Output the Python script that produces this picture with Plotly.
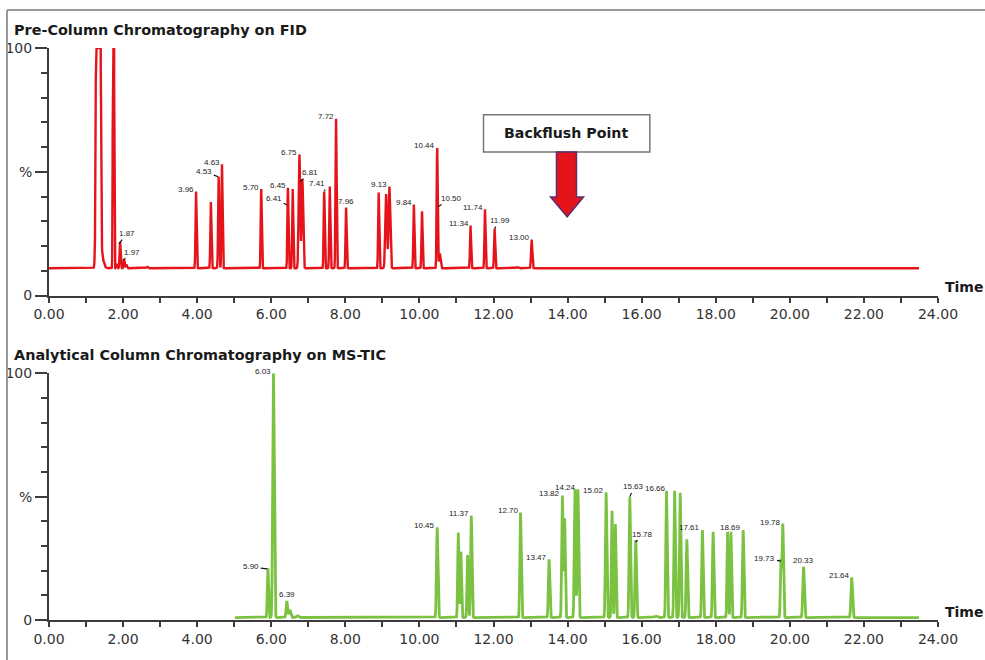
import numpy as np
import plotly.graph_objects as go

# ---------------- data ----------------
# Pre-column FID chromatogram: peak retention times (min), apex heights (%), widths (sigma, min)
fid_baseline = 11.0
fid_rt = [1.33, 1.42, 1.74, 1.83, 1.92, 2.03, 2.09, 2.65, 3.97, 4.37, 4.58, 4.67, 5.73,
          6.45, 6.58, 6.76, 6.84, 7.43, 7.58, 7.75, 8.02, 8.90, 9.10, 9.19, 9.85, 10.07,
          10.48, 10.55, 11.38, 11.77, 12.03, 12.67, 13.03]
fid_apex = [1000, 16, 300, 12.8, 21.7, 14.6, 12.5, 11.6, 42, 37.8, 48, 53, 43,
            43.5, 43, 57, 47, 42, 44, 71.4, 35.5, 41.6, 41, 44, 36.8, 34,
            59.6, 17, 28.3, 34.8, 27, 11.4, 22.6]
fid_sigma = [0.03, 0.05, 0.012, 0.014, 0.014, 0.014, 0.014, 0.02, 0.014, 0.014, 0.014, 0.014, 0.014,
             0.014, 0.014, 0.02, 0.02, 0.014, 0.014, 0.014, 0.014, 0.014, 0.022, 0.022, 0.014, 0.014,
             0.014, 0.02, 0.014, 0.014, 0.014, 0.02, 0.016]
fid_end = 23.49

# Analytical column MS-TIC chromatogram
ms_baseline = 1.0
ms_start = 5.02
ms_end = 23.49
ms_rt = [5.91, 6.06, 6.42, 6.50, 6.70, 10.48, 11.05, 11.12, 11.30, 11.40, 12.73, 13.50,
         13.86, 13.92, 14.20, 14.28, 15.04, 15.20, 15.29, 15.68, 15.84, 16.38, 16.67, 16.89,
         17.04, 17.22, 17.64, 17.93, 18.32, 18.41, 18.74, 19.76, 19.81, 20.37, 21.67]
ms_apex = [21, 100, 7.7, 4, 1.8, 37.6, 35.5, 27.7, 26.3, 42.3, 43.6, 24.6,
           50.4, 41, 53, 53, 51.8, 44.3, 38.9, 49.7, 32.4, 1.6, 52.4, 52.4,
           51.6, 32.7, 36.5, 35.8, 35.8, 35.8, 36.5, 24, 38.9, 21.6, 17.3]
ms_sigma = [0.016, 0.02, 0.018, 0.025, 0.03, 0.018, 0.016, 0.016, 0.016, 0.018, 0.018, 0.018,
            0.018, 0.016, 0.018, 0.018, 0.018, 0.016, 0.016, 0.018, 0.018, 0.04, 0.018, 0.018,
            0.018, 0.018, 0.018, 0.018, 0.016, 0.016, 0.018, 0.016, 0.018, 0.02, 0.02]

# peak labels (plain: text ends at peak apex)
fid_lbl_text = ['3.96', '4.63', '5.70', '6.45', '6.75', '7.72', '9.13', '9.84', '10.44', '11.34', '11.74', '13.00']
fid_lbl_rt = [3.97, 4.67, 5.73, 6.45, 6.76, 7.75, 9.19, 9.85, 10.48, 11.38, 11.77, 13.03]
fid_lbl_y = [42, 53, 43, 43.5, 57, 71.4, 44, 36.8, 59.6, 28.3, 34.8, 22.6]
fid_ctr_text = ['7.96']
fid_ctr_rt = [8.02]
fid_ctr_y = [35.5]
# labels with leader lines (tip point)
fid_lead_text = ['1.87', '1.97', '4.53', '6.41', '6.81', '7.41', '10.50', '11.99']
fid_lead_rt = [1.89, 2.00, 4.57, 6.43, 6.78, 7.46, 10.51, 12.03]
fid_lead_y = [21.0, 14.3, 48.0, 36.6, 46.0, 42.3, 36.0, 27.0]

ms_lbl_text = ['6.03', '10.45', '11.37', '12.70', '13.47', '13.82', '14.24', '15.02',
               '16.66', '17.61', '18.69', '19.78', '21.64']
ms_lbl_rt = [6.06, 10.48, 11.40, 12.73, 13.50, 13.86, 14.28, 15.04, 16.70, 17.64, 18.74, 19.81, 21.67]
ms_lbl_y = [100, 37.6, 42.3, 43.6, 24.6, 50.4, 53, 51.8, 52.4, 36.5, 36.5, 38.9, 17.3]
ms_ctr_text = ['6.39', '20.33']
ms_ctr_rt = [6.42, 20.37]
ms_ctr_y = [7.7, 21.6]
ms_lead_text = ['5.90', '15.63', '15.78', '19.73']
ms_lead_rt = [5.89, 15.68, 15.84, 19.76]
ms_lead_y = [20.7, 49.9, 31.6, 23.9]

x_tick_vals = [0, 2, 4, 6, 8, 10, 12, 14, 16, 18, 20, 22, 24]
y_tick_vals = [0, 50, 100]
y_tick_text = ['0', '%', '100']

# ---------------- styles / positions ----------------
fid_lead_off = [(8, -10), (9, -8), (-14, -5), (-13, -6), (10, -9), (-8, -7), (13, -8), (5, -8)]
ms_lead_off = [(-16, -2), (4, -10), (7, -8), (-16, -3)]

W, H = 985, 660
RED = '#e5141b'
GREEN = '#7cc242'
AX = '#3c3c3c'
FONT = 'DejaVu Sans'


def chromatogram(t, base, rts, apexes, sigmas):
    y = np.full_like(t, base)
    for rt, a, s in zip(rts, apexes, sigmas):
        y += (a - base) * np.exp(-0.5 * ((t - rt) / s) ** 2)
    return np.minimum(y, 100.0)


t1 = np.arange(0.0, fid_end, 0.002)
y1 = chromatogram(t1, fid_baseline, fid_rt, fid_apex, fid_sigma)
t2 = np.arange(ms_start, ms_end, 0.002)
y2 = chromatogram(t2, ms_baseline, ms_rt, ms_apex, ms_sigma)

fig = go.Figure()
fig.add_trace(go.Scatter(x=t1, y=y1, mode='lines', line=dict(color=RED, width=2.4),
                         xaxis='x', yaxis='y', hoverinfo='skip', showlegend=False))
fig.add_trace(go.Scatter(x=t2, y=y2, mode='lines', line=dict(color=GREEN, width=2.8),
                         xaxis='x2', yaxis='y2', hoverinfo='skip', showlegend=False))

xdom = [49 / W, 938 / W]
ydom1 = [1 - 295.5 / H, 1 - 48 / H]
ydom2 = [1 - 620 / H, 1 - 373.3 / H]

xcommon = dict(range=[0, 24], tickvals=x_tick_vals, tickformat='.2f', showgrid=False, zeroline=False,
               showline=True, linecolor=AX, linewidth=2, ticks='outside', ticklen=5, tickwidth=1.5,
               tickcolor=AX, tickfont=dict(family=FONT, size=14, color='#333333'),
               minor=dict(dtick=1, tick0=0, ticks='outside', ticklen=5, tickwidth=1.5, tickcolor=AX),
               fixedrange=True, domain=xdom)
ycommon = dict(range=[0, 100], tickvals=y_tick_vals, ticktext=y_tick_text, showgrid=False, zeroline=False,
               showline=True, linecolor=AX, linewidth=2, ticks='outside', ticklen=12, tickwidth=1.5,
               tickcolor=AX, tickfont=dict(family=FONT, size=14, color='#333333'),
               minor=dict(dtick=10, tick0=0, ticks='outside', ticklen=6, tickwidth=1.5, tickcolor=AX),
               fixedrange=True)

fig.update_layout(
    autosize=True, margin=dict(l=0, r=0, t=0, b=0, autoexpand=False),
    paper_bgcolor='white', plot_bgcolor='white', showlegend=False,
    xaxis=dict(xcommon, anchor='y'),
    yaxis=dict(ycommon, anchor='x', domain=ydom1),
    xaxis2=dict(xcommon, anchor='y2'),
    yaxis2=dict(ycommon, anchor='x2', domain=ydom2),
)

ann = []
lblfont = dict(family='Liberation Sans', size=8, color='#222222')


def add_labels(texts, rts, ys, xr, yr):
    for s, x, y in zip(texts, rts, ys):
        ann.append(dict(x=x, y=y, xref=xr, yref=yr, text=s, showarrow=False, xanchor='right',
                        yanchor='middle', yshift=2, font=lblfont))


def add_ctr(texts, rts, ys, xr, yr):
    for s, x, y in zip(texts, rts, ys):
        ann.append(dict(x=x, y=y, xref=xr, yref=yr, text=s, showarrow=False, xanchor='center',
                        yanchor='bottom', yshift=0, font=lblfont))


def add_lead(texts, rts, ys, offs, xr, yr):
    for s, x, y, (ax, ay) in zip(texts, rts, ys, offs):
        ann.append(dict(x=x, y=y, xref=xr, yref=yr, text=s, showarrow=True, arrowhead=0,
                        arrowwidth=1.2, arrowcolor='#111111', ax=ax, ay=ay, standoff=0,
                        font=lblfont))


add_labels(fid_lbl_text, fid_lbl_rt, fid_lbl_y, 'x', 'y')
add_ctr(fid_ctr_text, fid_ctr_rt, fid_ctr_y, 'x', 'y')
add_lead(fid_lead_text, fid_lead_rt, fid_lead_y, fid_lead_off, 'x', 'y')
add_labels(ms_lbl_text, ms_lbl_rt, ms_lbl_y, 'x2', 'y2')
add_ctr(ms_ctr_text, ms_ctr_rt, ms_ctr_y, 'x2', 'y2')
add_lead(ms_lead_text, ms_lead_rt, ms_lead_y, ms_lead_off, 'x2', 'y2')

titlefont = dict(family=FONT, size=14.4, color='#1a1a1a')
ann.append(dict(x=12 / W, y=1 - 30 / H, xref='paper', yref='paper', xanchor='left', yanchor='middle',
                text='<b>Pre-Column Chromatography on FID</b>', showarrow=False, font=titlefont))
ann.append(dict(x=12 / W, y=1 - 355 / H, xref='paper', yref='paper', xanchor='left', yanchor='middle',
                text='<b>Analytical Column Chromatography on MS-TIC</b>', showarrow=False, font=titlefont))
for yy in (287, 612):
    ann.append(dict(x=943 / W, y=1 - yy / H, xref='paper', yref='paper', xanchor='left', yanchor='middle',
                    text='<b>Time</b>', showarrow=False, font=dict(family=FONT, size=14, color='#1a1a1a')))

# Backflush annotation box + arrow
ann.append(dict(x=13.97, y=65.5, xref='x', yref='y', text='<b>Backflush Point</b>', showarrow=False,
                font=dict(family=FONT, size=14.2, color='#1a1a1a')))
fig.update_layout(annotations=ann)

shapes = [
    dict(type='rect', xref='x', yref='y', x0=11.73, x1=16.22, y0=58.0, y1=73.0,
         line=dict(color='#777777', width=1.5), fillcolor='white', layer='below'),
    dict(type='path', xref='x', yref='y',
         path='M 13.70,58.0 L 14.24,58.0 L 14.24,39.8 L 14.43,39.8 L 13.99,31.8 L 13.54,39.8 L 13.70,39.8 Z',
         fillcolor=RED, line=dict(color='#5b2d72', width=1.5)),
    dict(type='line', xref='paper', yref='paper', x0=7 / W, x1=1, y0=1 - 10 / H, y1=1 - 10 / H,
         line=dict(color='#9a9a9a', width=2)),
    dict(type='line', xref='paper', yref='paper', x0=7 / W, x1=7 / W, y0=0, y1=1 - 10 / H,
         line=dict(color='#9a9a9a', width=2)),
]
fig.update_layout(shapes=shapes)

post = (
    "document.documentElement.style.height='100%';"
    "document.documentElement.style.margin='0';"
    "document.body.style.margin='0';"
    "document.body.style.padding='0';"
    "document.body.style.height='100%';"
    "document.body.style.overflow='hidden';"
    "var gd=document.getElementById('{plot_id}');"
    "gd.style.position='fixed';gd.style.left='0';gd.style.top='0';"
    "gd.style.width='100vw';gd.style.height='100vh';"
    "Plotly.Plots.resize(gd);"
)
fig.write_html('out.html', config={'displayModeBar': False, 'responsive': True},
               default_width='100vw', default_height='100vh', post_script=post)
